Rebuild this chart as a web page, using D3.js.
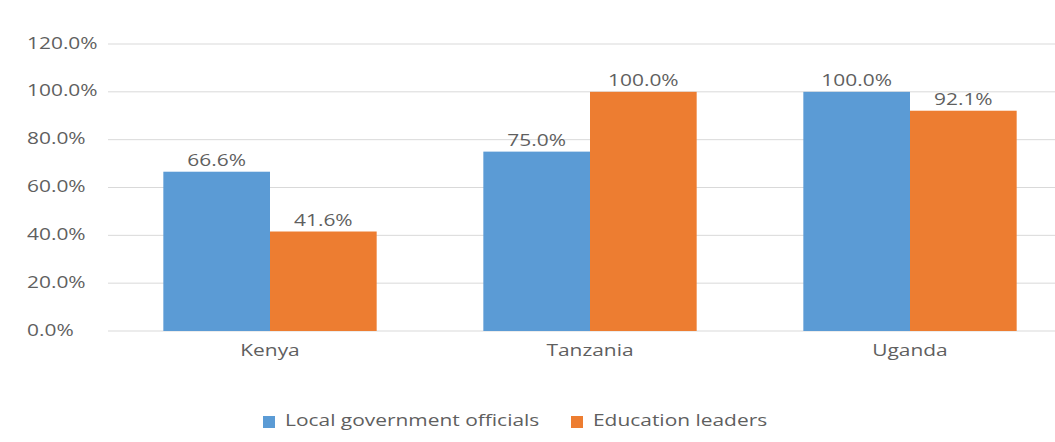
<!DOCTYPE html>
<html><head><meta charset="utf-8">
<script src="https://cdn.jsdelivr.net/npm/d3@7"></script>
<style>body{margin:0;background:#fff}svg{display:block}text{font-family:"Open Sans",sans-serif;fill:#5f5f5f}</style>
</head><body><svg id="c" width="1055" height="442"></svg>
<script>
const categories = ["Kenya","Tanzania","Uganda"];
const seriesNames = ["Local government officials","Education leaders"];
const localGov = [66.6, 75.0, 100.0];
const eduLeaders = [41.6, 100.0, 92.1];
const yTicks = [0,20,40,60,80,100,120];
const colors = ["#5B9BD5","#ED7D31"];
const SX = 1.35; // horizontal text stretch
const FS = 15.5;

const svg = d3.select("#c");
const x0 = d3.scaleBand().domain(categories).range([110,1070]).paddingInner(1/3).paddingOuter(1/6);
const x1 = d3.scaleBand().domain(seriesNames).range([0,x0.bandwidth()]);
const y = d3.scaleLinear().domain([0,120]).range([331,44]);

function stext(g, x, yy, str, anchor){
  const t = g.append("g").attr("transform",`translate(${x},${yy}) scale(${SX},1)`);
  t.append("text").attr("text-anchor",anchor).attr("font-size",FS).attr("dominant-baseline","middle").text(str);
}

// gridlines
svg.append("g").selectAll("line").data(yTicks).join("line")
  .attr("x1",108).attr("x2",1055).attr("y1",d=>y(d)).attr("y2",d=>y(d))
  .attr("stroke","#d9d9d9").attr("stroke-width",1);
const yl = svg.append("g");
yTicks.forEach(d=> stext(yl, 27, y(d)+0.5, d.toFixed(1)+"%", "start"));

const data = categories.map((c,i)=>({c, vals:[localGov[i], eduLeaders[i]]}));
const grp = svg.append("g");
data.forEach(d=>{
  d.vals.forEach((v,j)=>{
    const bx = x0(d.c)+x1(seriesNames[j]);
    grp.append("rect").attr("x",bx).attr("y",y(v)).attr("width",x1.bandwidth()).attr("height",y(0)-y(v)).attr("fill",colors[j]);
    stext(grp, bx+x1.bandwidth()/2, y(v)-10, v.toFixed(1)+"%", "middle");
  });
  stext(grp, x0(d.c)+x0.bandwidth()/2, 352, d.c, "middle");
});

// legend
const lg = svg.append("g");
const legendX = [263, 571];
seriesNames.forEach((s,j)=>{
  lg.append("rect").attr("x",legendX[j]).attr("y",416).attr("width",12).attr("height",12).attr("fill",colors[j]);
  stext(lg, legendX[j]+22, 422, s, "start");
});
</script></body></html>
